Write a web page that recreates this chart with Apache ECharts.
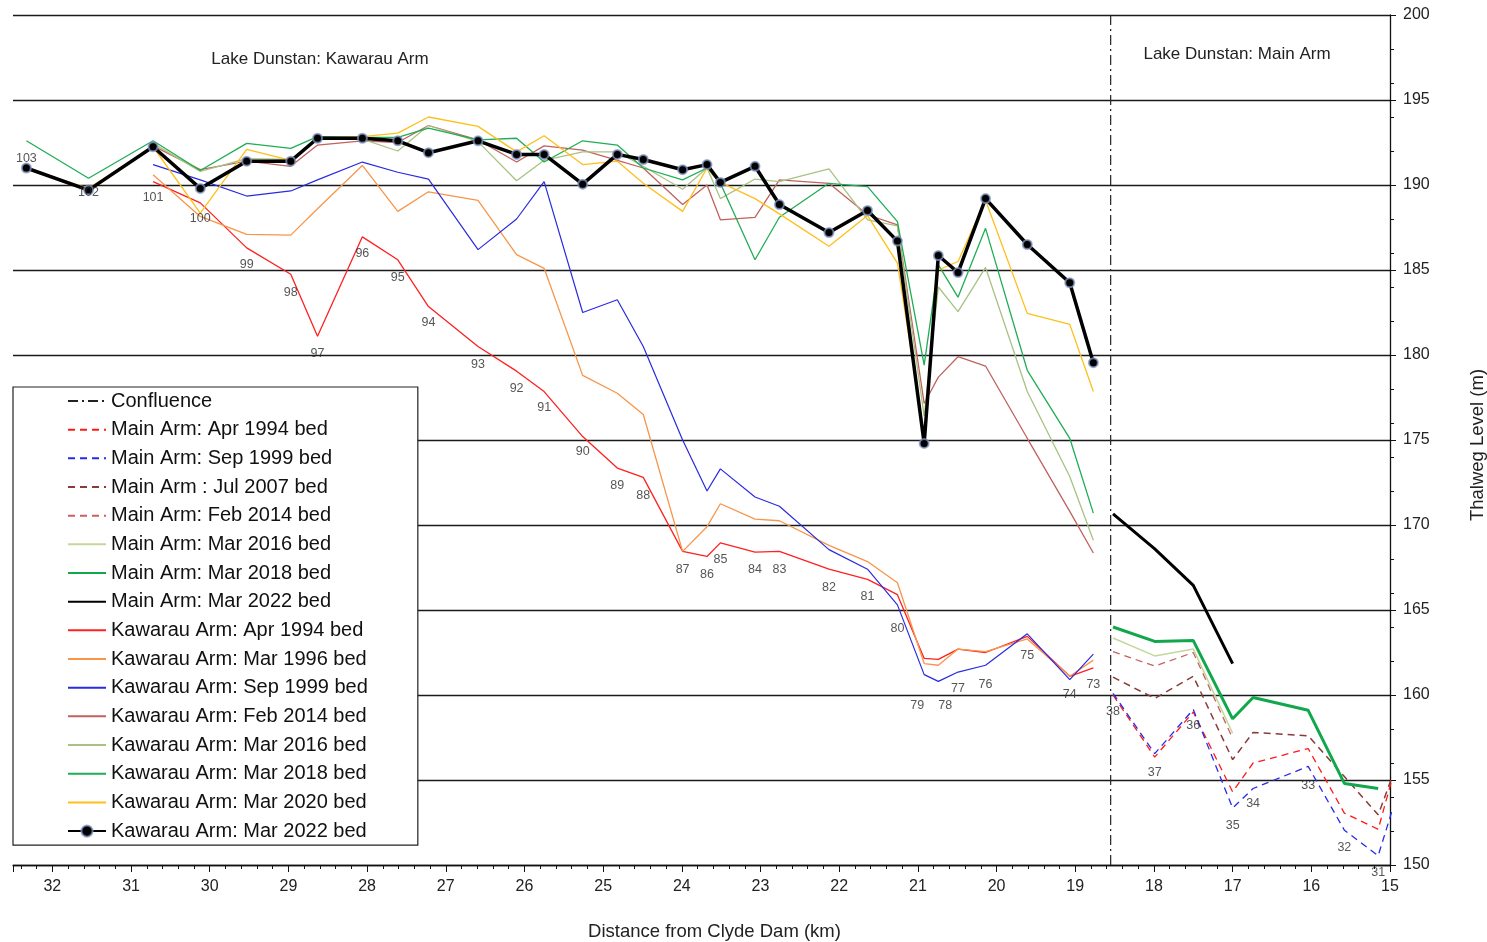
<!DOCTYPE html>
<html>
<head>
<meta charset="utf-8">
<script src="https://cdn.jsdelivr.net/npm/echarts@6/dist/echarts.min.js"></script>
<style>
  html, body { margin: 0; padding: 0; background: #fff; }
  #chart { width: 1487px; height: 942px; }
</style>
</head>
<body>
<div id="chart"></div>
<script>
// ---- Kawarau Arm cross-sections (number, chainage in km from Clyde Dam) ----
const kawarauSections = [103,102,101,100,99,98,97,96,95,94,93,92,91,90,89,88,87,86,85,84,83,82,81,80,79,78,77,76,75,74,73];
const kawarauKm = [32.33,31.54,30.72,30.12,29.53,28.97,28.63,28.06,27.61,27.22,26.59,26.10,25.75,25.26,24.82,24.49,23.99,23.68,23.51,23.07,22.76,22.13,21.64,21.26,20.92,20.74,20.49,20.14,19.61,19.07,18.77];

// Thalweg levels (m) per survey, Kawarau Arm
const kawApr1994 = [null,null,190.2,188.95,186.3,184.75,181.1,186.95,185.6,182.85,180.5,179.05,177.85,175.2,173.35,172.8,168.45,168.15,168.95,168.4,168.45,167.4,166.8,165.9,162.15,162.1,162.7,162.5,163.45,161.1,161.6];
const kawMar1996 = [null,null,190.6,188.15,187.1,187.05,188.6,191.15,188.45,189.6,189.1,185.9,185.1,178.8,177.75,176.5,168.45,169.9,171.25,170.35,170.25,168.8,167.85,166.6,161.85,161.75,162.7,162.55,163.3,161.1,162.05];
const kawSep1999 = [null,null,191.2,190.3,189.35,189.65,190.3,191.35,190.75,190.35,186.2,188.0,190.2,182.5,183.25,180.5,175.0,172.0,173.3,171.65,171.1,168.55,167.4,165.3,161.2,160.8,161.35,161.75,163.6,160.9,162.4];
const kawFeb2014 = [null,null,192.3,190.9,191.4,191.1,192.35,192.6,192.5,193.5,192.65,191.35,192.3,192.05,191.45,191.0,188.85,190.0,187.95,188.1,190.3,190.1,188.25,187.65,177.15,178.7,179.9,179.35,175.1,170.8,168.35];
const kawMar2016 = [null,null,192.45,190.8,191.55,191.5,192.7,192.7,192.0,193.5,192.55,190.25,191.45,191.95,191.95,191.1,189.75,191.0,189.2,190.35,190.2,190.95,187.95,187.6,176.4,184.0,182.55,185.15,177.85,172.85,169.1];
const kawMar2018 = [192.6,190.4,192.6,190.85,192.45,192.15,192.85,192.8,192.8,193.35,192.65,192.75,191.35,192.6,192.35,191.0,190.3,191.0,190.1,185.6,188.1,190.1,189.9,187.85,179.4,185.3,183.4,187.45,179.1,175.1,170.7];
const kawMar2020 = [191.0,189.8,192.25,188.35,192.1,191.45,192.75,192.85,193.05,194.0,193.45,191.95,192.9,191.2,191.4,190.1,188.45,191.0,190.15,189.2,188.3,186.4,188.2,185.4,175.3,185.0,185.5,189.1,182.45,181.8,177.85];
const kawMar2022 = [191.0,189.7,192.25,189.8,191.4,191.4,192.75,192.75,192.6,191.9,192.6,191.8,191.8,190.05,191.8,191.5,190.9,191.2,190.15,191.1,188.85,187.2,188.5,186.7,174.8,185.85,184.85,189.2,186.5,184.25,179.55];

// ---- Main Arm cross-sections ----
const mainSections = [38,37,36,35,34,33,32,31,30];
const mainKm = [18.52,17.99,17.50,17.00,16.74,16.04,15.58,15.15,14.90];

const mainApr1994 = [160.0,156.35,159.0,154.3,156.0,156.85,153.05,152.1,156.3];
const mainSep1999 = [160.1,156.55,159.15,153.35,154.5,155.8,152.05,150.55,154.3];
const mainJul2007 = [161.05,159.8,161.1,156.2,157.8,157.6,155.2,152.95,156.1];
const mainFeb2014 = [162.55,161.7,162.5,157.45,null,null,null,null,null];
const mainMar2016 = [163.35,162.3,162.7,157.75,null,null,null,null,null];
const mainMar2018 = [164.0,163.15,163.2,158.6,159.85,159.1,154.8,154.5,null];
const mainMar2022 = [170.65,168.6,166.45,161.85,null,null,null,null,null];

// Level (m) at which each cross-section number is printed
const kawLabelLevel = [191.55,189.55,189.25,188.0,185.35,183.7,180.1,185.95,184.55,181.9,179.45,178.0,176.9,174.3,172.3,171.75,167.4,167.1,167.95,167.4,167.4,166.35,165.8,163.9,159.4,159.4,160.4,160.6,162.35,160.05,160.6];
const mainLabelLevel = [159.05,155.45,158.2,152.35,153.6,154.7,151.05,149.55,null];

// Confluence of the two arms (km)
const confluenceKm = 18.55;

// Axis ranges
const xMin = 15, xMax = 32.5;
const yMin = 150, yMax = 200;

const FONT = '"Liberation Sans", Arial, Helvetica, sans-serif';

function lineSeries(name, km, vals, style, extra) {
  return Object.assign({
    name: name,
    type: 'line',
    data: km.map((k, i) => [k, vals[i]]),
    symbol: 'none',
    lineStyle: style,
    // no point markers: keep the legend icon a plain line
    itemStyle: { color: style.color, opacity: 0 },
    animation: false,
    emphasis: { disabled: true }
  }, extra || {});
}

const dash = [7, 5];

const series = [
  {
    name: 'Confluence',
    type: 'line',
    data: [[confluenceKm, yMin], [confluenceKm, yMax]],
    symbol: 'none',
    lineStyle: { color: '#222', width: 1.2, type: [10, 4, 2, 4] },
    itemStyle: { color: '#222', opacity: 0 },
    animation: false,
    emphasis: { disabled: true }
  },
  lineSeries('Main Arm: Apr 1994 bed', mainKm, mainApr1994, { color: '#ff1a1a', width: 1.3, type: dash }),
  lineSeries('Main Arm: Sep 1999 bed', mainKm, mainSep1999, { color: '#2a2ae8', width: 1.3, type: dash }),
  lineSeries('Main Arm : Jul 2007 bed', mainKm, mainJul2007, { color: '#8b3a3a', width: 1.5, type: dash }),
  lineSeries('Main Arm: Feb 2014 bed', mainKm, mainFeb2014, { color: '#c96060', width: 1.3, type: dash }),
  lineSeries('Main Arm: Mar 2016 bed', mainKm, mainMar2016, { color: '#c4d79b', width: 1.5 }),
  lineSeries('Main Arm: Mar 2018 bed', mainKm, mainMar2018, { color: '#10a84a', width: 3 }),
  lineSeries('Main Arm: Mar 2022 bed', mainKm, mainMar2022, { color: '#000', width: 3 }),
  lineSeries('Kawarau Arm: Apr 1994 bed', kawarauKm, kawApr1994, { color: '#ff2020', width: 1.3 }),
  lineSeries('Kawarau Arm: Mar 1996 bed', kawarauKm, kawMar1996, { color: '#f7964a', width: 1.3 }),
  lineSeries('Kawarau Arm: Sep 1999 bed', kawarauKm, kawSep1999, { color: '#2a2ae0', width: 1.2 }),
  lineSeries('Kawarau Arm: Feb 2014 bed', kawarauKm, kawFeb2014, { color: '#c0625e', width: 1.3 }),
  lineSeries('Kawarau Arm: Mar 2016 bed', kawarauKm, kawMar2016, { color: '#a9c283', width: 1.3 }),
  lineSeries('Kawarau Arm: Mar 2018 bed', kawarauKm, kawMar2018, { color: '#1fae55', width: 1.3 }),
  lineSeries('Kawarau Arm: Mar 2020 bed', kawarauKm, kawMar2020, { color: '#ffbf1a', width: 1.3 }),
  lineSeries('Kawarau Arm: Mar 2022 bed', kawarauKm, kawMar2022, { color: '#000', width: 3.5 }, {
    symbol: 'circle',
    symbolSize: 9,
    showAllSymbol: true,
    itemStyle: { color: '#000', opacity: 1, borderColor: 'rgba(130,150,195,0.75)', borderWidth: 2 }
  })
];

// Cross-section numbers
const labelAlign = { 79: 'right', 78: 'left' };
const sectionLabels = [];
function addLabel(s, km, level) {
  if (level == null) return;
  const item = { name: String(s), value: [km, level] };
  if (labelAlign[s]) item.label = { align: labelAlign[s] };
  sectionLabels.push(item);
}
kawarauSections.forEach((s, i) => addLabel(s, kawarauKm[i], kawLabelLevel[i]));
mainSections.forEach((s, i) => addLabel(s, mainKm[i], mainLabelLevel[i]));

series.push({
  name: 'sections',
  type: 'scatter',
  data: sectionLabels,
  symbolSize: 1,
  itemStyle: { color: 'rgba(0,0,0,0)' },
  clip: false,
  silent: true,
  animation: false,
  z: 5,
  label: {
    show: true,
    position: 'inside',
    formatter: p => p.name,
    fontFamily: FONT,
    fontSize: 12.5,
    color: '#2a2a2a'
  }
});

const legendNames = series.filter(s => s.type === 'line').map(s => s.name);

const chart = echarts.init(document.getElementById('chart'), null, { renderer: 'canvas' });
chart.setOption({
  animation: false,
  backgroundColor: '#fff',
  textStyle: { fontFamily: FONT },
  grid: { left: 13, right: 97, top: 15, bottom: 77, containLabel: false, outerBoundsMode: 'none' },
  xAxis: [
    {
      type: 'value',
      inverse: true,
      min: xMin,
      max: xMax,
      interval: 1,
      position: 'bottom',
      name: 'Distance from Clyde Dam (km)',
      nameLocation: 'middle',
      nameGap: 57,
      nameTextStyle: { fontSize: 18.5, color: '#222', padding: [0, 0, 0, 26] },
      axisLine: { show: true, lineStyle: { color: '#111', width: 1.3 } },
      axisTick: { show: true, length: 7, lineStyle: { color: '#111', width: 1 } },
      axisLabel: {
        fontSize: 16, color: '#222', margin: 14,
        formatter: v => (Number.isInteger(v) ? String(v) : '')
      },
      splitLine: { show: false }
    },
    {
      type: 'value',
      inverse: true,
      min: xMin,
      max: xMax,
      interval: 0.2,
      position: 'bottom',
      axisLine: { show: false },
      axisTick: { show: true, length: 4, lineStyle: { color: '#111', width: 1 } },
      axisLabel: { show: false },
      splitLine: { show: false }
    }
  ],
  yAxis: [
    {
      type: 'value',
      position: 'right',
      min: yMin,
      max: yMax,
      interval: 5,
      name: 'Thalweg Level (m)',
      nameLocation: 'middle',
      nameRotate: 90,
      nameGap: 78,
      nameTextStyle: { fontSize: 18.5, color: '#222', padding: [0, 10, 0, 0] },
      axisLine: { show: true, lineStyle: { color: '#111', width: 1.3 } },
      axisTick: { show: true, length: 6, lineStyle: { color: '#111', width: 1 } },
      axisLabel: { fontSize: 16, color: '#222', margin: 13 },
      splitLine: { show: true, lineStyle: { color: '#1a1a1a', width: 1.3 } }
    },
    {
      type: 'value',
      position: 'right',
      min: yMin,
      max: yMax,
      interval: 2,
      axisLine: { show: false },
      axisTick: { show: true, length: 4, lineStyle: { color: '#111', width: 1 } },
      axisLabel: { show: false },
      splitLine: { show: false }
    }
  ],
  legend: {
    data: legendNames,
    orient: 'vertical',
    left: 13,
    top: 387,
    itemWidth: 38,
    itemHeight: 14,
    itemGap: 8.67,
    padding: [4, 50, 4, 54],
    backgroundColor: '#fff',
    borderColor: '#222',
    borderWidth: 1.2,
    borderRadius: 0,
    selectedMode: false,
    textStyle: { fontSize: 20, color: '#111', lineHeight: 20, fontFamily: FONT },
    z: 10
  },
  graphic: [
    {
      type: 'text', x: 320, y: 59, z: 20,
      style: { text: 'Lake Dunstan: Kawarau Arm', font: '17px ' + FONT, fill: '#222', align: 'center', verticalAlign: 'middle' }
    },
    {
      type: 'text', x: 1237, y: 54, z: 20,
      style: { text: 'Lake Dunstan: Main Arm', font: '17px ' + FONT, fill: '#222', align: 'center', verticalAlign: 'middle' }
    }
  ],
  series: series
});
</script>
</body>
</html>
